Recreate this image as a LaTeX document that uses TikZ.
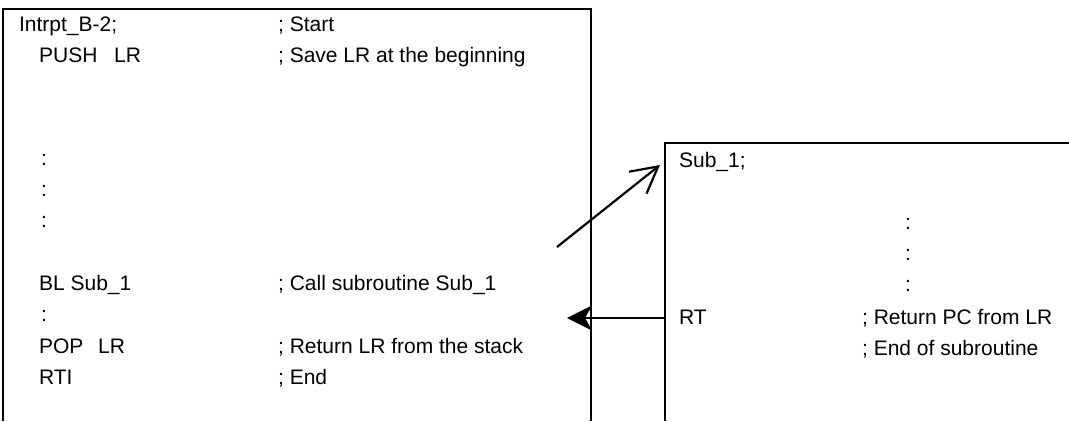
\documentclass[tikz,border=0pt]{standalone}
\usepackage{fontspec}
\setmainfont{Liberation Sans}
\usetikzlibrary{arrows.meta}

\begin{document}
\begin{tikzpicture}[x=1pt,y=-1pt,line width=2.2pt,
   code/.style={anchor=base west,inner sep=0pt,font=\fontsize{21}{25}\selectfont},
   calls/.style={-{Straight Barb[length=26pt,width=28pt]}},
   returns/.style={-{Stealth[length=25pt,width=25pt,inset=7pt]}}]
  \useasboundingbox (0,0) rectangle (1069,421);
  % interrupt routine frame, open at the bottom
  \draw (3,421) |- (591,9) -- (591,421);
  % subroutine frame, open to the right and below
  \draw (1069,143) -| (665,421);

  % interrupt routine listing
  \node[code] (isr) at (18,31) {Intrpt\_B-2;};
  \node[code] (isrc) at (277,31) {; Start};
  \node[code] (push) at (38,62) {PUSH};
  \node[code] (pushlr) at (113,62) {LR};
  \node[code] (pushc) at (277,62) {; Save LR at the beginning};
  \node[code] (gap1) at (40,165) {:};
  \node[code] (gap2) at (40,196) {:};
  \node[code] (gap3) at (40,227) {:};
  \node[code] (bl) at (38,290) {BL Sub\_1};
  \node[code] (blc) at (277,290) {; Call subroutine Sub\_1};
  \node[code] (gap4) at (40,321) {:};
  \node[code] (pop) at (38,353) {POP};
  \node[code] (poplr) at (97,353) {LR};
  \node[code] (popc) at (277,353) {; Return LR from the stack};
  \node[code] (rti) at (38,384) {RTI};
  \node[code] (rtic) at (277,384) {; End};

  % subroutine listing
  \node[code] (sub) at (678,167) {Sub\_1;};
  \node[code] (sgap1) at (904,229) {:};
  \node[code] (sgap2) at (904,260) {:};
  \node[code] (sgap3) at (904,291) {:};
  \node[code] (rt) at (678,324) {RT};
  \node[code] (rtc) at (861,324) {; Return PC from LR};
  \node[code] (endc) at (861,355) {; End of subroutine};

  % call and return
  \coordinate (callfrom) at (557,247);
  \coordinate (callto) at (660,165);
  \coordinate (retfrom) at (665,318);
  \coordinate (retto) at (567,318);
  \draw[calls] (callfrom) -- (callto);
  \draw[returns] (retfrom) -- (retto);
\end{tikzpicture}
\end{document}
